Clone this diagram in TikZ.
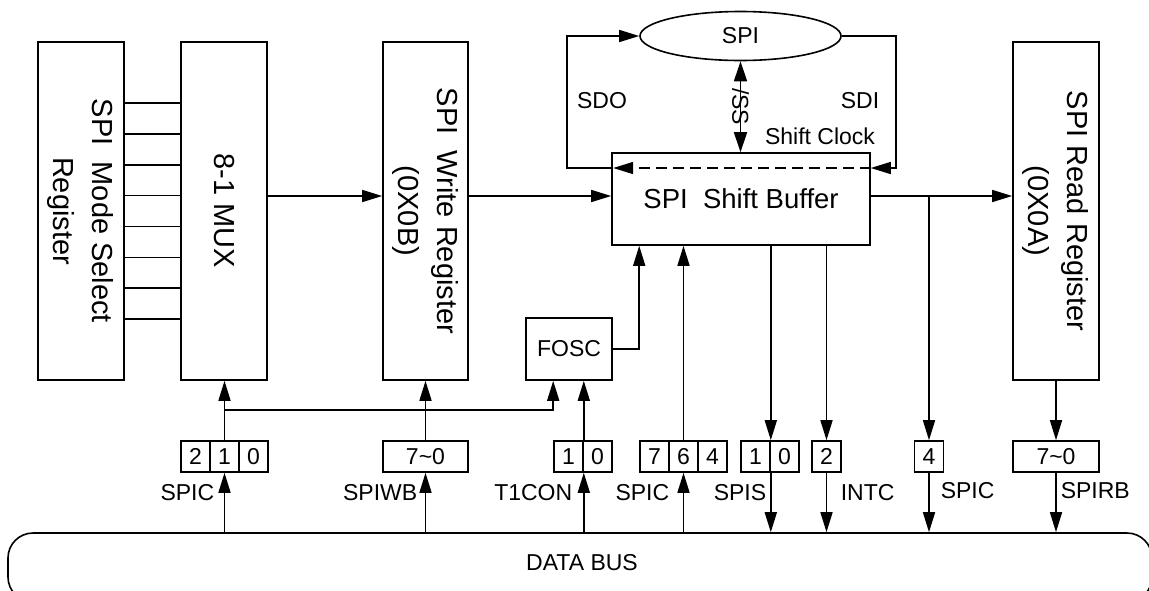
\documentclass[tikz,border=0pt]{standalone}
\usepackage{fontspec}
\setmainfont{Liberation Sans}
\usepackage{graphicx}
\usepackage{tikz}
\tikzset{
  every picture/.style={line width=1.6pt},
}
\usetikzlibrary{arrows.meta,shapes.geometric,positioning}

\begin{document}
\begin{tikzpicture}[
    x=1pt,y=-1pt,
    blk/.style={draw,inner sep=0pt,font=\fontsize{23}{27}\selectfont},
    reg/.style={draw,inner sep=0pt,minimum width=86pt,minimum height=338pt,font=\fontsize{29}{39}\selectfont},
    bit/.style={draw,inner sep=0pt,minimum width=29pt,minimum height=31pt,font=\fontsize{23}{27}\selectfont},
    lbl/.style={inner sep=0pt,font=\fontsize{23}{27}\selectfont},
    arr/.style={-{Triangle[length=20pt 0 0,width=12pt 0 0]}},
    darr/.style={{Triangle[length=20pt 0 0,width=13pt 0 0]}-{Triangle[length=20pt 0 0,width=13pt 0 0]}}
    ]
    \useasboundingbox (0,0) rectangle (1149,590);
    \coordinate (datay) at (0,196);
    \coordinate (clky) at (0,168);
    \coordinate (selv) at (0,410);
    % registers
    \node[reg] (modesel) at (81,211) {\rotatebox{-90}{\begin{tabular}{@{}c@{}}SPI\ \ Mode Select\\Register\end{tabular}}};
    \node[reg] (mux) at (224,211) {\rotatebox{-90}{8-1 MUX}};
    \node[reg,minimum width=85pt] (wreg) at (425.5,211) {\rotatebox{-90}{\begin{tabular}{@{}c@{}}SPI\ \ Write Register\\(0X0B)\end{tabular}}};
    \node[reg] (rreg) at (1056,211) {\rotatebox{-90}{\begin{tabular}{@{}c@{}}SPI Read Register\\(0X0A)\end{tabular}}};
    \node[blk,minimum width=258pt,minimum height=92pt,font=\fontsize{27.5}{32}\selectfont] (sbuf) at (741,199) {SPI\ \ Shift Buffer};
    \node[blk,ellipse,minimum width=201pt,minimum height=49pt] (spi) at (740.5,36) {SPI};
    \node[blk,minimum width=86pt,minimum height=62pt] (fosc) at (569,349) {FOSC};
    % mode select lines
    \draw (modesel.east |- 0,103) -- (mux.west |- 0,103);
    \draw (modesel.east |- 0,133.9) -- (mux.west |- 0,133.9);
    \draw (modesel.east |- 0,164.7) -- (mux.west |- 0,164.7);
    \draw (modesel.east |- 0,195.6) -- (mux.west |- 0,195.6);
    \draw (modesel.east |- 0,226.4) -- (mux.west |- 0,226.4);
    \draw (modesel.east |- 0,257.3) -- (mux.west |- 0,257.3);
    \draw (modesel.east |- 0,288.1) -- (mux.west |- 0,288.1);
    \draw (modesel.east |- 0,319) -- (mux.west |- 0,319);
    % data path
    \draw[arr] (mux.east |- datay) -- (wreg.west |- datay);
    \draw[arr] (wreg.east |- datay) -- (sbuf.west |- datay);
    \draw[arr] (sbuf.east |- datay) -- (rreg.west |- datay);
    \draw[arr] (sbuf.west |- clky) -- ++(-44,0) |- (spi.west);
    \draw[arr] (spi.east) -- ++(54,0) |- (sbuf.east |- clky);
    \draw[arr,dash pattern=on 11pt off 6pt,shorten >=2pt] (sbuf.east |- clky) -- (sbuf.west |- clky);
    \draw[darr] (spi.south) -- (sbuf.north -| spi.south) node[midway,lbl,rotate=-90] (ss) {/SS};
    \node[lbl] (sdo) at (602,101) {SDO};
    \node[lbl] (sdi) at (860,101) {SDI};
    \node[lbl] (shclk) at (820,136) {Shift Clock};
    % bit fields
    \node[bit] (spica2) at (195.5,456.5) {2};
    \node[bit] (spica1) at (224.5,456.5) {1};
    \node[bit] (spica0) at (253.5,456.5) {0};
    \node[bit,minimum width=85pt] (spiwb) at (425.5,456.5) {7\textasciitilde0};
    \node[bit] (tcon1) at (568.5,456.5) {1};
    \node[bit] (tcon0) at (597.5,456.5) {0};
    \node[bit] (spicb7) at (654.5,456.5) {7};
    \node[bit] (spicb6) at (683.5,456.5) {6};
    \node[bit] (spicb4) at (712.5,456.5) {4};
    \node[bit] (spis1) at (755.5,456.5) {1};
    \node[bit] (spis0) at (784.5,456.5) {0};
    \node[bit] (intc2) at (826.5,456.5) {2};
    \node[bit] (spicc4) at (929,456.5) {4};
    \node[bit,minimum width=86pt] (spirb) at (1056,456.5) {7\textasciitilde0};
    % control lines
    \draw[arr] (spica1.north) -- (mux.south -| spica1.north);
    \draw[arr] (spica1.north |- selv) -| (fosc.south -| tcon1.west);
    \draw[arr] (spiwb.north) -- (wreg.south -| spiwb.north);
    \draw[arr] (tcon1.north east) -- (fosc.south -| tcon1.north east);
    \draw[arr] (fosc.east) -| (sbuf.south -| spicb7.west);
    \draw[arr] (spicb6.north) -- (sbuf.south -| spicb6.north);
    \draw[arr] (sbuf.south -| spis1.north east) -- (spis1.north east);
    \draw[arr] (sbuf.south -| intc2.north) -- (intc2.north);
    \draw[arr] (spicc4.north |- datay) -- (spicc4.north);
    \draw[arr] (rreg.south) -- (spirb.north);
    % data bus
    \begin{scope}
      \clip (0,0) rectangle (1149,590);
      \node[draw,rounded corners=25pt,minimum width=1144pt,minimum height=69pt] (bus) at (580,567.5) {};
    \end{scope}
    \node[lbl] (buslbl) at (582,563) {DATA BUS};
    \draw[arr] (bus.north -| spica1.south) -- (spica1.south);
    \draw[arr] (bus.north -| spiwb.south) -- (spiwb.south);
    \draw[arr] (bus.north -| tcon1.south east) -- (tcon1.south east);
    \draw[arr] (bus.north -| spicb6.south) -- (spicb6.south);
    \draw[arr] (spis1.south east) -- (bus.north -| spis1.south east);
    \draw[arr] (intc2.south) -- (bus.north -| intc2.south);
    \draw[arr] (spicc4.south) -- (bus.north -| spicc4.south);
    \draw[arr] (spirb.south) -- (bus.north -| spirb.south);
    \node[lbl,anchor=east] (lspica) at (215,493) {SPIC};
    \node[lbl,anchor=east] (lspiwb) at (418,493) {SPIWB};
    \node[lbl,anchor=east] (ltcon) at (573,493) {T1CON};
    \node[lbl,anchor=east] (lspicb) at (670,493) {SPIC};
    \node[lbl,anchor=east] (lspis) at (767,493) {SPIS};
    \node[lbl,anchor=west] (lintc) at (840,493) {INTC};
    \node[lbl,anchor=west] (lspicc) at (940,491) {SPIC};
    \node[lbl,anchor=west] (lspirb) at (1060,491) {SPIRB};
  \end{tikzpicture}
\end{document}
